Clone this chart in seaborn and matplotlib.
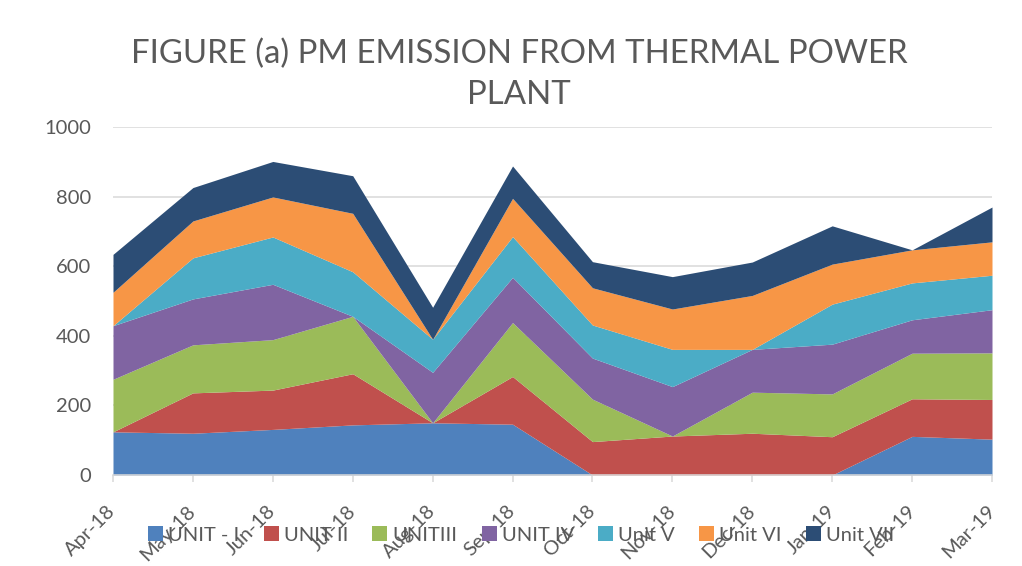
import matplotlib
matplotlib.use("Agg")
import matplotlib.pyplot as plt
import seaborn as sns
import numpy as np

months = ["Apr-18", "May-18", "Jun-18", "Jul-18", "Aug-18", "Sep-18",
          "Oct-18", "Nov-18", "Dec-18", "Jan-19", "Feb-19", "Mar-19"]
series_names = ["UNIT - I", "UNIT II", "UNITIII", "UNIT IV", "Unit V", "Unit VI", "Unit VII"]

unit_1 = [124, 120, 131, 144, 150, 146, 0, 0, 0, 0, 111, 103]
unit_2 = [0, 116, 113, 147, 0, 137, 96, 112, 120, 110, 108, 114]
unit_3 = [151, 138, 145, 165, 0, 155, 122, 0, 118, 123, 131, 134]
unit_4 = [154, 132, 159, 0, 145, 130, 118, 142, 123, 143, 96, 124]
unit_5 = [0, 118, 136, 128, 95, 117, 95, 107, 0, 115, 106, 99]
unit_6 = [96, 106, 115, 168, 0, 110, 107, 116, 155, 115, 95, 96]
unit_7 = [109, 96, 102, 108, 92, 93, 75, 93, 96, 110, 0, 100]

yticks = [0, 200, 400, 600, 800, 1000]
colors = ["#4f81bd", "#c0504d", "#9bbb59", "#8064a2", "#4bacc6", "#f79646", "#2c4d75"]
title = "FIGURE (a) PM EMISSION FROM THERMAL POWER\nPLANT"

sns.set_theme(style="white")
plt.rcParams['font.family'] = ['Lato', 'DejaVu Sans']
text_color = "#595959"
grid_color = "#d9d9d9"

fig = plt.figure(figsize=(10.22, 5.66), dpi=100)
ax = fig.add_axes([113/1022, 1-475/566, (992-113)/1022, (475-127)/566])

x = np.arange(len(months))
values = [unit_1, unit_2, unit_3, unit_4, unit_5, unit_6, unit_7]
ax.stackplot(x, *values, colors=colors, labels=series_names, linewidth=0)

ax.set_xlim(0, len(months) - 1)
ax.set_ylim(0, 1000)
ax.set_yticks(yticks)
ax.set_yticklabels([str(v) for v in yticks])
ax.set_xticks(x)
ax.set_xticklabels(months, rotation=45, ha="right", va="center", rotation_mode="anchor")

ax.yaxis.grid(True, color=grid_color, linewidth=1.1)
ax.set_axisbelow(True)
for s in ["top", "right", "left"]:
    ax.spines[s].set_visible(False)
ax.spines["bottom"].set_color(grid_color)
ax.spines["bottom"].set_linewidth(1.1)
ax.spines["bottom"].set_zorder(5)

ax.tick_params(axis="y", length=0, pad=16, labelsize=14.5, labelcolor=text_color)
ax.tick_params(axis="x", bottom=True, length=5, width=1.1, color=grid_color,
               pad=19, labelsize=14.5, labelcolor=text_color)

fig.text(0.508, 1 - 74/566, title, ha="center", va="center", fontsize=23.8,
         color=text_color, linespacing=1.45)

handles, labels = ax.get_legend_handles_labels()
leg = fig.legend(handles, labels, loc="center", bbox_to_anchor=(0.51, 1 - 535/566),
                 ncol=7, frameon=False, fontsize=14.5, handlelength=0.75, handleheight=0.75,
                 handletextpad=0.25, columnspacing=1.2, labelcolor=text_color)

fig.savefig("out.png", dpi=100)
